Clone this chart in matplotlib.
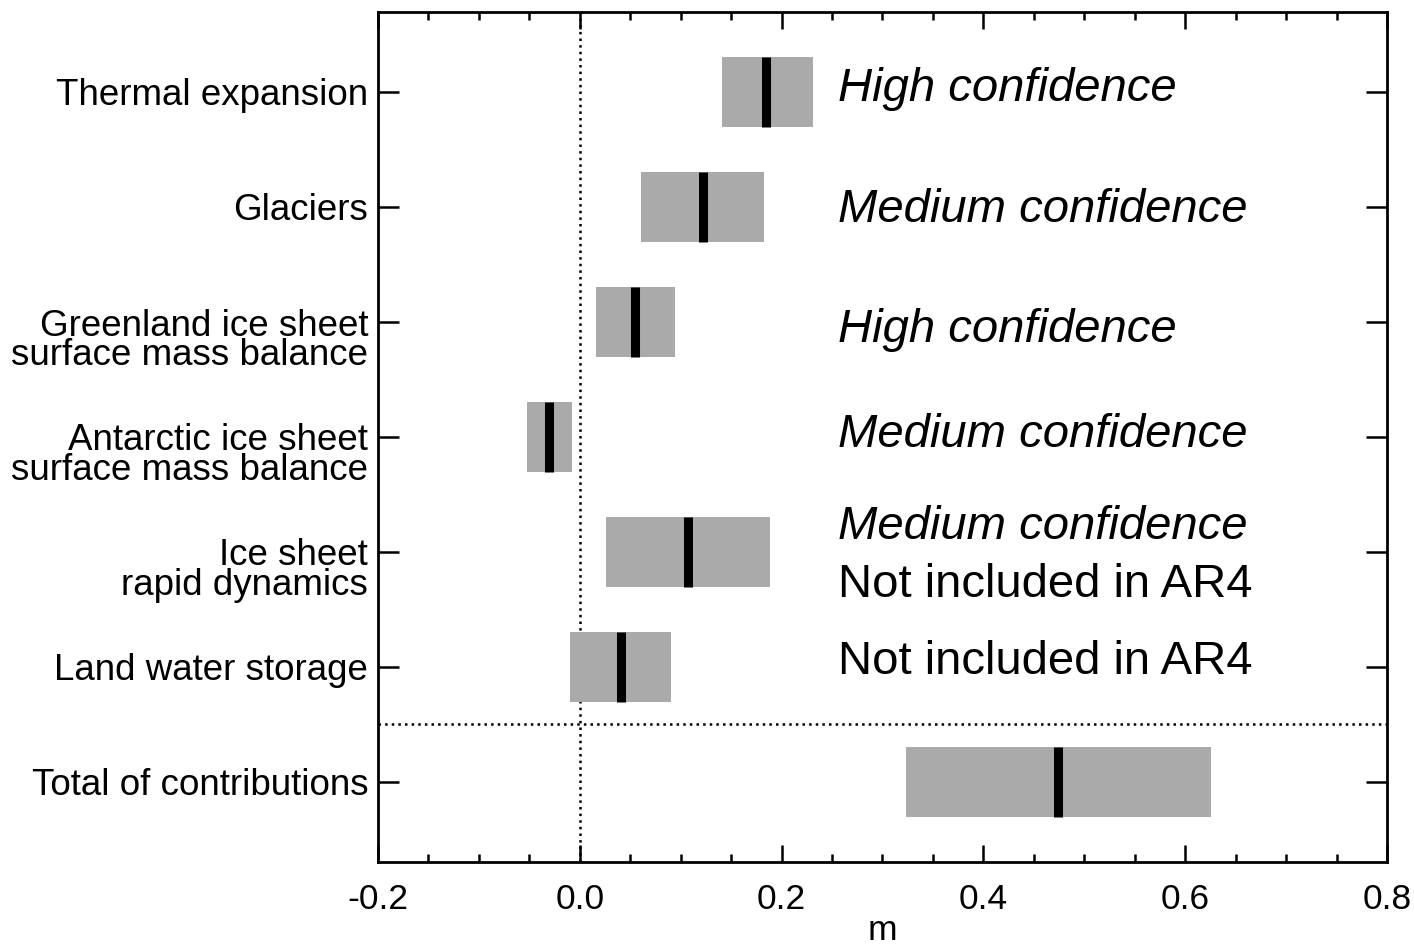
import numpy as np
import matplotlib.pyplot as plt
from matplotlib.ticker import MultipleLocator, NullFormatter

plt.rcParams['font.family'] = ['Liberation Sans', 'DejaVu Sans']

# contributions to sea level rise (m): likely range and median
labels = ['Thermal expansion', 'Glaciers',
          'Greenland ice sheet\nsurface mass balance',
          'Antarctic ice sheet\nsurface mass balance',
          'Ice sheet\nrapid dynamics', 'Land water storage',
          'Total of contributions']
low = [0.141, 0.061, 0.016, -0.052, 0.026, -0.010, 0.323]
high = [0.231, 0.183, 0.094, -0.008, 0.189, 0.090, 0.626]
median = [0.185, 0.122, 0.055, -0.030, 0.107, 0.041, 0.474]

# confidence notes per row: (text, italic, offset in rows)
notes = [
    [('High confidence', True, -0.03)],
    [('Medium confidence', True, 0.02)],
    [('High confidence', True, 0.07)],
    [('Medium confidence', True, -0.02)],
    [('Medium confidence', True, -0.22), ('Not included in AR4', False, 0.29)],
    [('Not included in AR4', False, -0.04)],
    [],
]

fig = plt.figure(figsize=(14.14, 9.5), dpi=100)
ax = fig.add_axes([0.2673, 0.0926, 0.9809 - 0.2673, 0.9874 - 0.0926])

y = np.arange(len(labels))
widths = np.array(high) - np.array(low)
ax.barh(y, widths, left=low, height=0.61, color='#aaaaaa', zorder=2)
ax.vlines(median, y - 0.305, y + 0.305, colors='black', linewidth=6.5, zorder=3)

ax.axvline(0.0, color='black', linestyle=':', linewidth=1.8, zorder=1)
ax.axhline(5.5, color='black', linestyle=':', linewidth=1.8, zorder=1)

for i, row in enumerate(notes):
    for txt, it, off in row:
        ax.text(0.256, i + off, txt, fontsize=34, va='center', ha='left',
                style='italic' if it else 'normal')

ax.set_xlim(-0.2, 0.8)
ax.set_ylim(6.7, -0.7)
ax.set_yticks(y)
ax.yaxis.set_major_formatter(NullFormatter())
# row labels; for two-line ones the first line sits level with the tick
for yi, lab in zip(y, labels):
    dy = -13.5 if '\n' in lab else -2.5
    ax.annotate(lab, xy=(0, yi), xycoords=('axes fraction', 'data'),
                xytext=(-7, dy), textcoords='offset points',
                ha='right', va='center', fontsize=26.5, linespacing=0.8,
                multialignment='right', annotation_clip=False)

ax.xaxis.set_major_locator(MultipleLocator(0.2))
ax.xaxis.set_minor_locator(MultipleLocator(0.05))
ax.set_xticklabels(['%.1f' % v for v in ax.get_xticks()], fontsize=25.5)
ax.set_xlabel('m', fontsize=25.5, labelpad=-1)

ax.tick_params(axis='x', which='major', direction='in', length=12, width=1.8,
               top=True, bottom=True, pad=15)
ax.tick_params(axis='x', which='minor', direction='in', length=6, width=1.8,
               top=True, bottom=True)
ax.tick_params(axis='y', which='major', direction='in', length=15, width=1.8,
               left=True, right=True)
for s in ax.spines.values():
    s.set_linewidth(2)

fig.savefig('out.png', dpi=100)
